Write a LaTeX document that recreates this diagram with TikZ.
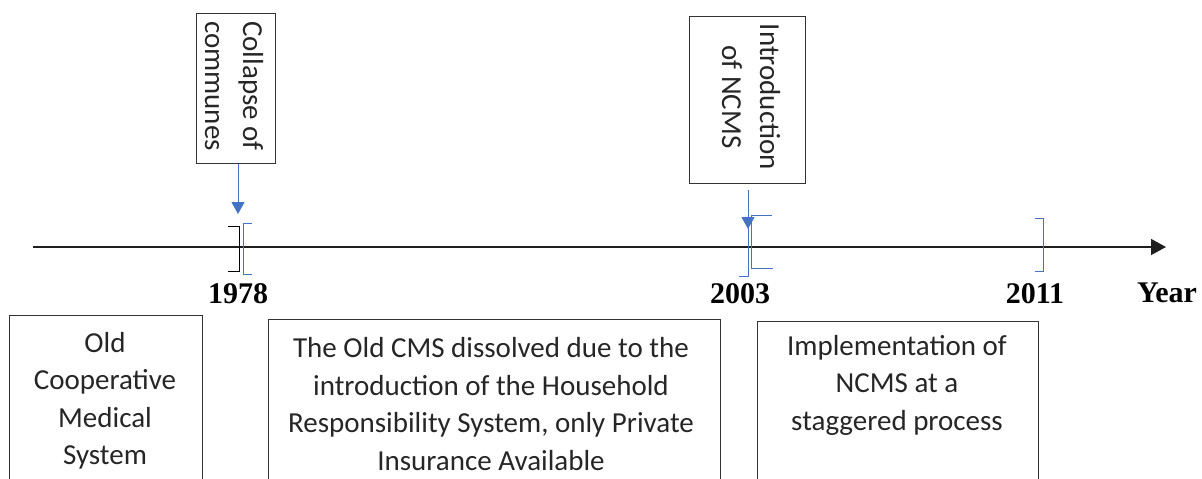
\documentclass[tikz,border=0pt]{standalone}
\usepackage{fontspec}
\setmainfont{Carlito}
\newfontfamily\yearfont{Liberation Serif}
\usetikzlibrary{arrows.meta}
\definecolor{officeblue}{RGB}{68,114,196}
\definecolor{axisgray}{RGB}{30,30,30}
\tikzset{
  eventbox/.style={draw=black!80, line width=1pt},
  boxtext/.style={font=\fontsize{29}{37.5}\selectfont, align=center, inner sep=0pt, text=black!85},
  rottext/.style={font=\fontsize{29}{38}\selectfont, align=center, inner sep=0pt, rotate=-90, text=black!85},
  yearlabel/.style={font=\yearfont\bfseries\fontsize{30}{32}\selectfont, inner sep=0pt},
  bluebr/.style={draw=officeblue, line width=1pt},
  blackbr/.style={draw=black, line width=1pt},
  bluearrow/.style={draw=officeblue, line width=1pt, -{Triangle[length=12pt, width=13pt]}},
}
\begin{document}
\begin{tikzpicture}[x=1pt, y=-1pt]
\useasboundingbox (0,0) rectangle (1202,479);
\clip (0,0) rectangle (1202,479);

% axis
\coordinate (axstart) at (33,247);
\coordinate (axend) at (1166,247);
\draw[draw=axisgray, line width=1.5pt, -{Triangle[length=15pt, width=16pt]}] (axstart) -- (axend);

% top boxes
\node[eventbox, minimum width=79pt, minimum height=150pt, inner sep=0pt] (collapse) at (235.5,88) {};
\node[rottext] (collapsetxt) at (234,86) {Collapse of\\communes};
\node[eventbox, minimum width=116pt, minimum height=167pt, inner sep=0pt] (ncms) at (747,99.5) {};
\node[rottext] (ncmstxt) at (751,97) {Introduction\\of NCMS};

% arrows
\coordinate (arr1) at (238,214);
\draw[bluearrow] (collapse.south -| arr1) -- (arr1);
\coordinate (arr2s) at (748,190);
\coordinate (arr2e) at (748,229);
\draw[bluearrow] (arr2s) -- (arr2e);

% brackets
\draw[blackbr] (228,226) -- (239,226) -- (239,271) -- (228,271);
\draw[bluebr] (252,223) -- (243,223) -- (243,274) -- (252,274);
\draw[bluebr] (739,276) -- (748,276) -- (748,226);
\draw[bluebr] (772,215) -- (751,215) -- (751,268) -- (773,268);
\draw[bluebr] (1035,218) -- (1043,218) -- (1043,271) -- (1035,271);

% year labels
\node[yearlabel] (y1978) at (238,294) {1978};
\node[yearlabel] (y2003) at (740,294) {2003};
\node[yearlabel] (y2011) at (1035,294) {2011};
\node[yearlabel] (yyear) at (1167,293) {Year};

% bottom boxes
\node[eventbox, anchor=north west, minimum width=193pt, minimum height=200pt, inner sep=0pt] (boxa) at (9,315) {};
\node[boxtext] (boxatxt) at (105,401) {Old\\Cooperative\\Medical\\System};
\node[eventbox, anchor=north west, minimum width=452pt, minimum height=200pt, inner sep=0pt] (boxb) at (268,319) {};
\node[boxtext] (boxbtxt) at (491,404) {The Old CMS dissolved due to the\\introduction of the Household\\Responsibility System, only Private\\Insurance Available};
\node[eventbox, anchor=north west, minimum width=281pt, minimum height=200pt, inner sep=0pt] (boxc) at (757,321) {};
\node[boxtext] (boxctxt) at (897,385) {Implementation of\\NCMS at a\\staggered process};
\end{tikzpicture}
\end{document}
